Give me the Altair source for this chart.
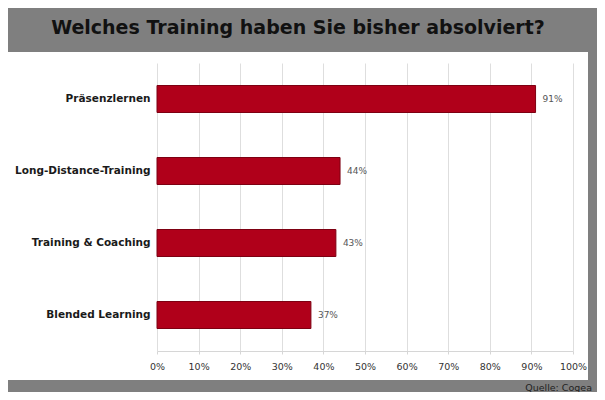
import altair as alt
import pandas as pd

title_text = "Welches Training haben Sie bisher absolviert?"
source_text = "Quelle: Cogea"
categories = ["Präsenzlernen", "Long-Distance-Training", "Training & Coaching", "Blended Learning"]
values = [0.91, 0.44, 0.43, 0.37]
labels = ["91%", "44%", "43%", "37%"]
tick_values = [0, 0.1, 0.2, 0.3, 0.4, 0.5, 0.6, 0.7, 0.8, 0.9, 1.0]

df = pd.DataFrame({"cat": categories, "val": values, "lab": labels})
texts = pd.DataFrame({"t": [title_text], "s": [source_text]})

GRAY = "#7f7f7f"
FONT = "DejaVu Sans"

# grey frame bands around the white panel (outside the plot area)
frame_top = alt.Chart(texts).mark_rect(color=GRAY).encode(
    x=alt.value(-149), x2=alt.value(440), y=alt.value(-55), y2=alt.value(-11)
)
frame_bottom = alt.Chart(texts).mark_rect(color=GRAY).encode(
    x=alt.value(-149), x2=alt.value(440), y=alt.value(317), y2=alt.value(329)
)
frame_right = alt.Chart(texts).mark_rect(color=GRAY).encode(
    x=alt.value(431), x2=alt.value(440), y=alt.value(-55), y2=alt.value(329)
)

y_enc = alt.Y(
    "cat:N", sort=None, title=None,
    scale=alt.Scale(paddingInner=0, paddingOuter=0),
    axis=alt.Axis(labelFont=FONT, labelFontWeight="bold", labelFontSize=10.5,
                  labelColor="#1a1a1a", ticks=False, domain=False, labelPadding=7,
                  labelLimit=300),
)
x_enc = alt.X(
    "val:Q", title=None,
    scale=alt.Scale(domain=[0, 1], nice=False),
    axis=alt.Axis(format=".0%", values=tick_values, labelFont=FONT, labelFontSize=9.5,
                  labelColor="#333333", grid=True, gridColor="#dedede",
                  domainColor="#d6d6d6", tickColor="#d6d6d6", tickSize=3,
                  labelPadding=7, labelFlush=False),
)

bars = alt.Chart(df).mark_bar(size=27, color="#b0001a", stroke="#7d0012", strokeWidth=1).encode(
    x=x_enc, y=y_enc
)
vals = alt.Chart(df).mark_text(align="left", dx=7, font=FONT, fontSize=9, color="#555555").encode(
    x="val:Q", y=alt.Y("cat:N", sort=None), text="lab:N"
)

title = alt.Chart(texts).mark_text(
    font=FONT, fontSize=19, fontWeight="bold", color="#111111", align="center", baseline="middle"
).encode(x=alt.value(141), y=alt.value(-35), text="t:N")

source = alt.Chart(texts).mark_text(
    font=FONT, fontSize=9.5, color="#222222", align="right", baseline="middle"
).encode(x=alt.value(435), y=alt.value(325), text="s:N")

chart = alt.layer(frame_top, frame_bottom, frame_right, bars, vals, title, source).properties(
    width=416, height=288,
    padding={"left": 149, "top": 55, "right": 24, "bottom": 41},
    autosize=alt.AutoSizeParams(type="none"),
    background="white",
).configure_view(stroke=None)

chart.save("out.html", embed_options={"renderer": "svg", "actions": False})
